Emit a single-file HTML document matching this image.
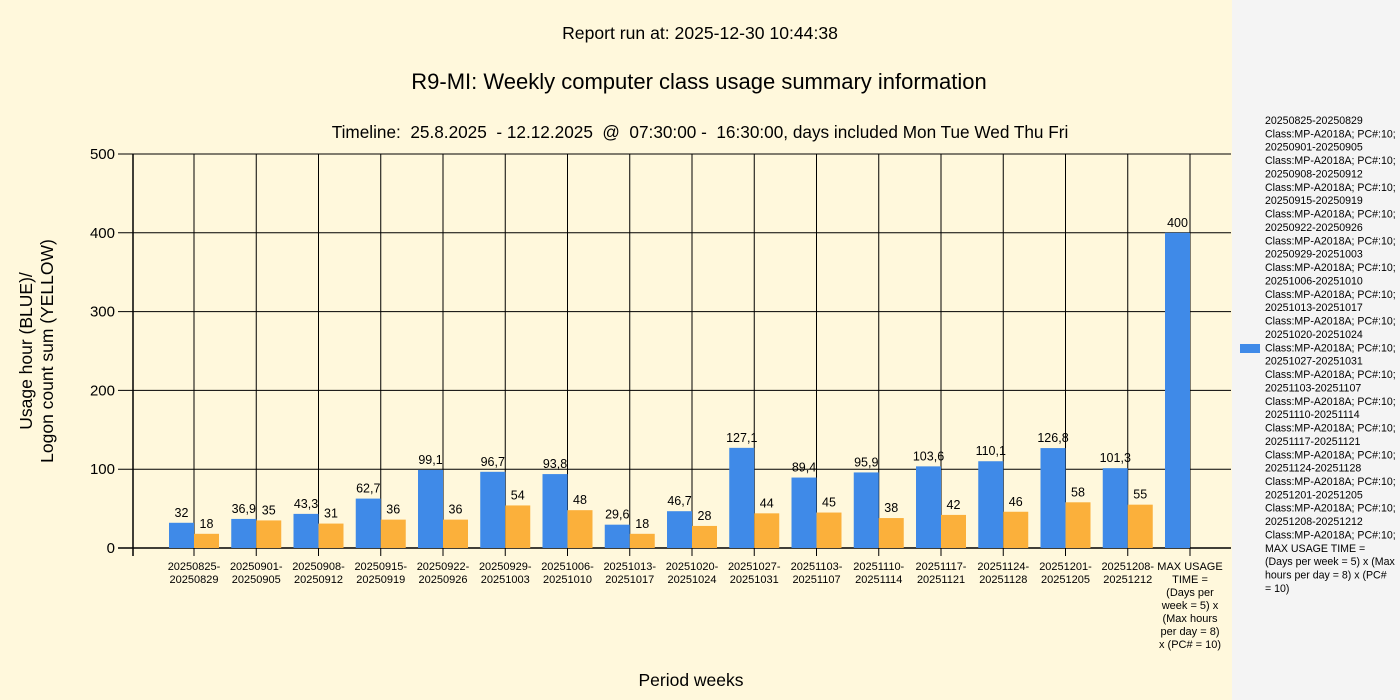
<!DOCTYPE html>
<html><head><meta charset="utf-8"><style>
body{margin:0;width:1400px;height:700px;overflow:hidden;background:#fff8dc;}
svg{display:block;font-family:"Liberation Sans",sans-serif;}
</style></head><body>
<svg width="1400" height="700" xmlns="http://www.w3.org/2000/svg">
<rect x="0" y="0" width="1232" height="700" fill="#fff8dc"/>
<rect x="1232" y="0" width="168" height="700" fill="#f4f4f4"/>
<text x="700" y="39" font-size="17.6" text-anchor="middle" fill="#000">Report run at: 2025-12-30 10:44:38</text>
<text x="699" y="89" font-size="22" text-anchor="middle" fill="#000">R9-MI: Weekly computer class usage summary information</text>
<text x="700" y="138" font-size="17.2" text-anchor="middle" fill="#000" xml:space="preserve">Timeline:  25.8.2025  - 12.12.2025  @  07:30:00 -  16:30:00, days included Mon Tue Wed Thu Fri</text>
<text x="691" y="686" font-size="17.5" text-anchor="middle">Period weeks</text>
<text transform="translate(32,351) rotate(-90)" font-size="17.5" text-anchor="middle">Usage hour (BLUE)/</text>
<text transform="translate(53,351) rotate(-90)" font-size="17.5" text-anchor="middle">Logon count sum (YELLOW)</text>
<g id="plot"></g>
<g id="legend" font-size="10.6" fill="#000"></g>
<rect x="1240" y="344" width="20" height="9" fill="#3f8ae8"/>
</svg>
<script>
var ns="http://www.w3.org/2000/svg",g=document.getElementById("plot");
function el(t,a,txt){var e=document.createElementNS(ns,t);for(var k in a)e.setAttribute(k,a[k]);if(txt!=null)e.textContent=txt;g.appendChild(e);return e;}
var y0=548,sc=0.788,L=133,R=1231;
var cats=["20250825-20250829","20250901-20250905","20250908-20250912","20250915-20250919","20250922-20250926","20250929-20251003","20251006-20251010","20251013-20251017","20251020-20251024","20251027-20251031","20251103-20251107","20251110-20251114","20251117-20251121","20251124-20251128","20251201-20251205","20251208-20251212"];
var blue=[32,36.9,43.3,62.7,99.1,96.7,93.8,29.6,46.7,127.1,89.4,95.9,103.6,110.1,126.8,101.3,400];
var org=[18,35,31,36,36,54,48,18,28,44,45,38,42,46,58,55];
var step=(1190-194)/16;
for(var v=0;v<=500;v+=100){var y=y0-v*sc;el("line",{x1:L-15,x2:R,y1:y,y2:y,stroke:"#000","stroke-width":1});
el("text",{x:L-18,y:y+5,"font-size":15,"text-anchor":"end"},v);}
for(var i=0;i<17;i++){var c=194+step*i;
el("line",{x1:c,x2:c,y1:154,y2:556,stroke:"#000","stroke-width":1});}
el("line",{x1:L,x2:L,y1:154,y2:556,stroke:"#000","stroke-width":1.5});
el("line",{x1:L-15,x2:R,y1:y0,y2:y0,stroke:"#000","stroke-width":1.5});
function fmt(n){return String(n).replace(".",",");}
for(var i=0;i<17;i++){var c=194+step*i;
var h=blue[i]*sc;el("rect",{x:c-25,y:y0-h,width:25,height:h,fill:"#3f8ae8"});
el("text",{x:c-12.5,y:y0-h-6,"font-size":12.5,"text-anchor":"middle"},fmt(blue[i]));
if(i<16){var h2=org[i]*sc;el("rect",{x:c,y:y0-h2,width:25,height:h2,fill:"#fbb03b"});
el("text",{x:c+12.5,y:y0-h2-6,"font-size":12.5,"text-anchor":"middle"},org[i]);
var p=cats[i].split("-");
el("text",{x:c,y:570,"font-size":11,"text-anchor":"middle"},p[0]+"-");
el("text",{x:c,y:583,"font-size":11,"text-anchor":"middle"},p[1]);}
else{var ml=["MAX USAGE","TIME =","(Days per","week = 5) x","(Max hours","per day = 8)","x (PC# = 10)"];
for(var j=0;j<ml.length;j++)el("text",{x:c,y:570+13*j,"font-size":11,"text-anchor":"middle"},ml[j]);}}
var lg=document.getElementById("legend"),lines=[];
for(var i=0;i<16;i++){lines.push(cats[i]);lines.push("Class:MP-A2018A; PC#:10;");}
lines.push("MAX USAGE TIME =");lines.push(" (Days per week = 5) x (Max");lines.push("hours per day = 8) x (PC#");lines.push("= 10)");
for(var i=0;i<lines.length;i++){var t=document.createElementNS(ns,"text");t.setAttribute("x",1265);t.setAttribute("y",124+i*13.37);t.setAttribute("xml:space","preserve");t.textContent=lines[i];lg.appendChild(t);}
</script>
</body></html>
